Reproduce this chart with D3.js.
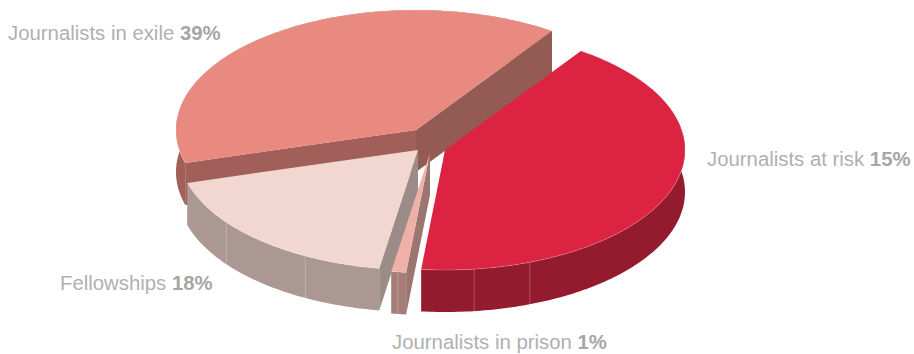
<!DOCTYPE html>
<html>
<head>
<meta charset="utf-8">
<style>
  html, body { margin: 0; padding: 0; background: #fff; }
  svg { display: block; }
  text { font-family: "Liberation Sans", Arial, sans-serif; font-size: 20.35px; fill: #b0b0b0; }
  tspan.num { font-weight: 700; fill: #a6a6a6; }
</style>
<script src="https://cdn.jsdelivr.net/npm/d3@7"></script>
</head>
<body>
<svg id="chart" width="914" height="354"></svg>
<script>
// Slices in clockwise order, beginning at the top-right cut.
const categories = ["Journalists at risk", "Journalists in prison", "Fellowships", "Journalists in exile"];
// Share of the circle each wedge sweeps.
const sweepShares = [42, 1, 18, 39];
// Percentages printed beside each wedge; the at-risk wedge is printed as 15%
// although it sweeps the remaining 42% of the circle.
const labelPercents = [15, 1, 18, 39];

// Visual settings per wedge, same order as the categories.
const topColors   = ["#dc2342", "#efb0a8", "#f2d6d0", "#e88a80"];
const outerColors = ["#941a2e", "#a67c76", "#ab9892", "#a25f59"];
const startCutColors = ["#941a2e", "#9b7570", "#9c8c88", "#a25f59"];
const endCutColors   = ["#941a2e", "#9b7570", "#9c8c88", "#945a54"];
const pivotOffsets = [[15, 8], [0, 11], [-12, 8], [-14, -12]];
// Wall seams, in degrees clockwise from the top of each wedge's ellipse.
const seamDegrees = [[159.3, 173], [187.7], [208, 233], []];
const labelAnchors = [[707, 166], [392, 349], [60, 290], [8, 40]];

const pivot = [430, 142];
const wallDepth = 42;
const radiusX = 240;
const radiusY = 120;

const svg = d3.select("#chart");
const unitX = d3.scaleLinear().domain([-1, 1]).range([-radiusX, radiusX]);
const unitY = d3.scaleLinear().domain([-1, 1]).range([-radiusY, radiusY]);

const arcs = d3.pie().sort(null)
  .startAngle(34.5 * Math.PI / 180)
  .endAngle((34.5 + 360) * Math.PI / 180)(sweepShares);

// Project a pie angle onto the tilted ellipse of one wedge.
function rim(i, angle, drop = 0) {
  const [ox, oy] = pivotOffsets[i];
  return [
    pivot[0] + ox + unitX(Math.sin(angle)),
    pivot[1] + oy + unitY(-Math.cos(angle)) + drop
  ];
}
function apex(i, drop = 0) {
  const [ox, oy] = pivotOffsets[i];
  return [pivot[0] + ox, pivot[1] + oy + drop];
}
function rimPoints(i, a0, a1, drop = 0) {
  const count = Math.max(4, Math.ceil(Math.abs(a1 - a0) * 60));
  return d3.range(count + 1).map(k => rim(i, a0 + (a1 - a0) * k / count, drop));
}
// A cut face shows only when its lower edge falls outside the wedge's top face.
function cutFaceVisible(i, angle, midAngle) {
  const o = apex(i), e = rim(i, angle), m = rim(i, midAngle);
  const side = (e[0] - o[0]) * (m[1] - o[1]) - (e[1] - o[1]) * (m[0] - o[0]);
  const down = e[0] - o[0];
  return side * down < 0;
}
const line = d3.line();

// Back-to-front painting: exile, fellowships, prison, then the red wedge.
[3, 2, 1, 0].forEach(i => {
  const { startAngle: a0, endAngle: a1 } = arcs[i];
  const mid = (a0 + a1) / 2;
  const g = svg.append("g").attr("class", "wedge");

  // Curved outer wall.
  const topEdge = rimPoints(i, a0, a1);
  const bottomEdge = rimPoints(i, a1, a0, wallDepth);
  g.append("path")
    .attr("d", line(topEdge.concat(bottomEdge)) + "Z")
    .attr("fill", outerColors[i]);

  seamDegrees[i].forEach(deg => {
    const a = deg * Math.PI / 180;
    g.append("path")
      .attr("d", line([rim(i, a), rim(i, a, wallDepth)]))
      .attr("stroke", "#fff").attr("stroke-opacity", 0.25).attr("fill", "none");
  });

  // Cut faces run from the pivot out to the rim.
  [[a0, startCutColors[i]], [a1, endCutColors[i]]].forEach(([angle, color]) => {
    if (!cutFaceVisible(i, angle, mid)) return;
    g.append("path")
      .attr("d", line([apex(i), rim(i, angle), rim(i, angle, wallDepth), apex(i, wallDepth)]) + "Z")
      .attr("fill", color);
  });

  // Top face, with a faint highlight along its rim.
  g.append("path")
    .attr("d", line([apex(i)].concat(topEdge)) + "Z")
    .attr("fill", topColors[i]);
  g.append("path")
    .attr("d", line(topEdge))
    .attr("fill", "none").attr("stroke", "#fff").attr("stroke-opacity", 0.2);
});

// Labels: category name in regular weight, percentage in bold.
const labels = svg.append("g").selectAll("text").data(categories).join("text")
  .attr("x", (d, i) => labelAnchors[i][0])
  .attr("y", (d, i) => labelAnchors[i][1]);
labels.append("tspan").text(d => d + " ");
labels.append("tspan").attr("class", "num").text((d, i) => labelPercents[i] + "%");
</script>
</body>
</html>
